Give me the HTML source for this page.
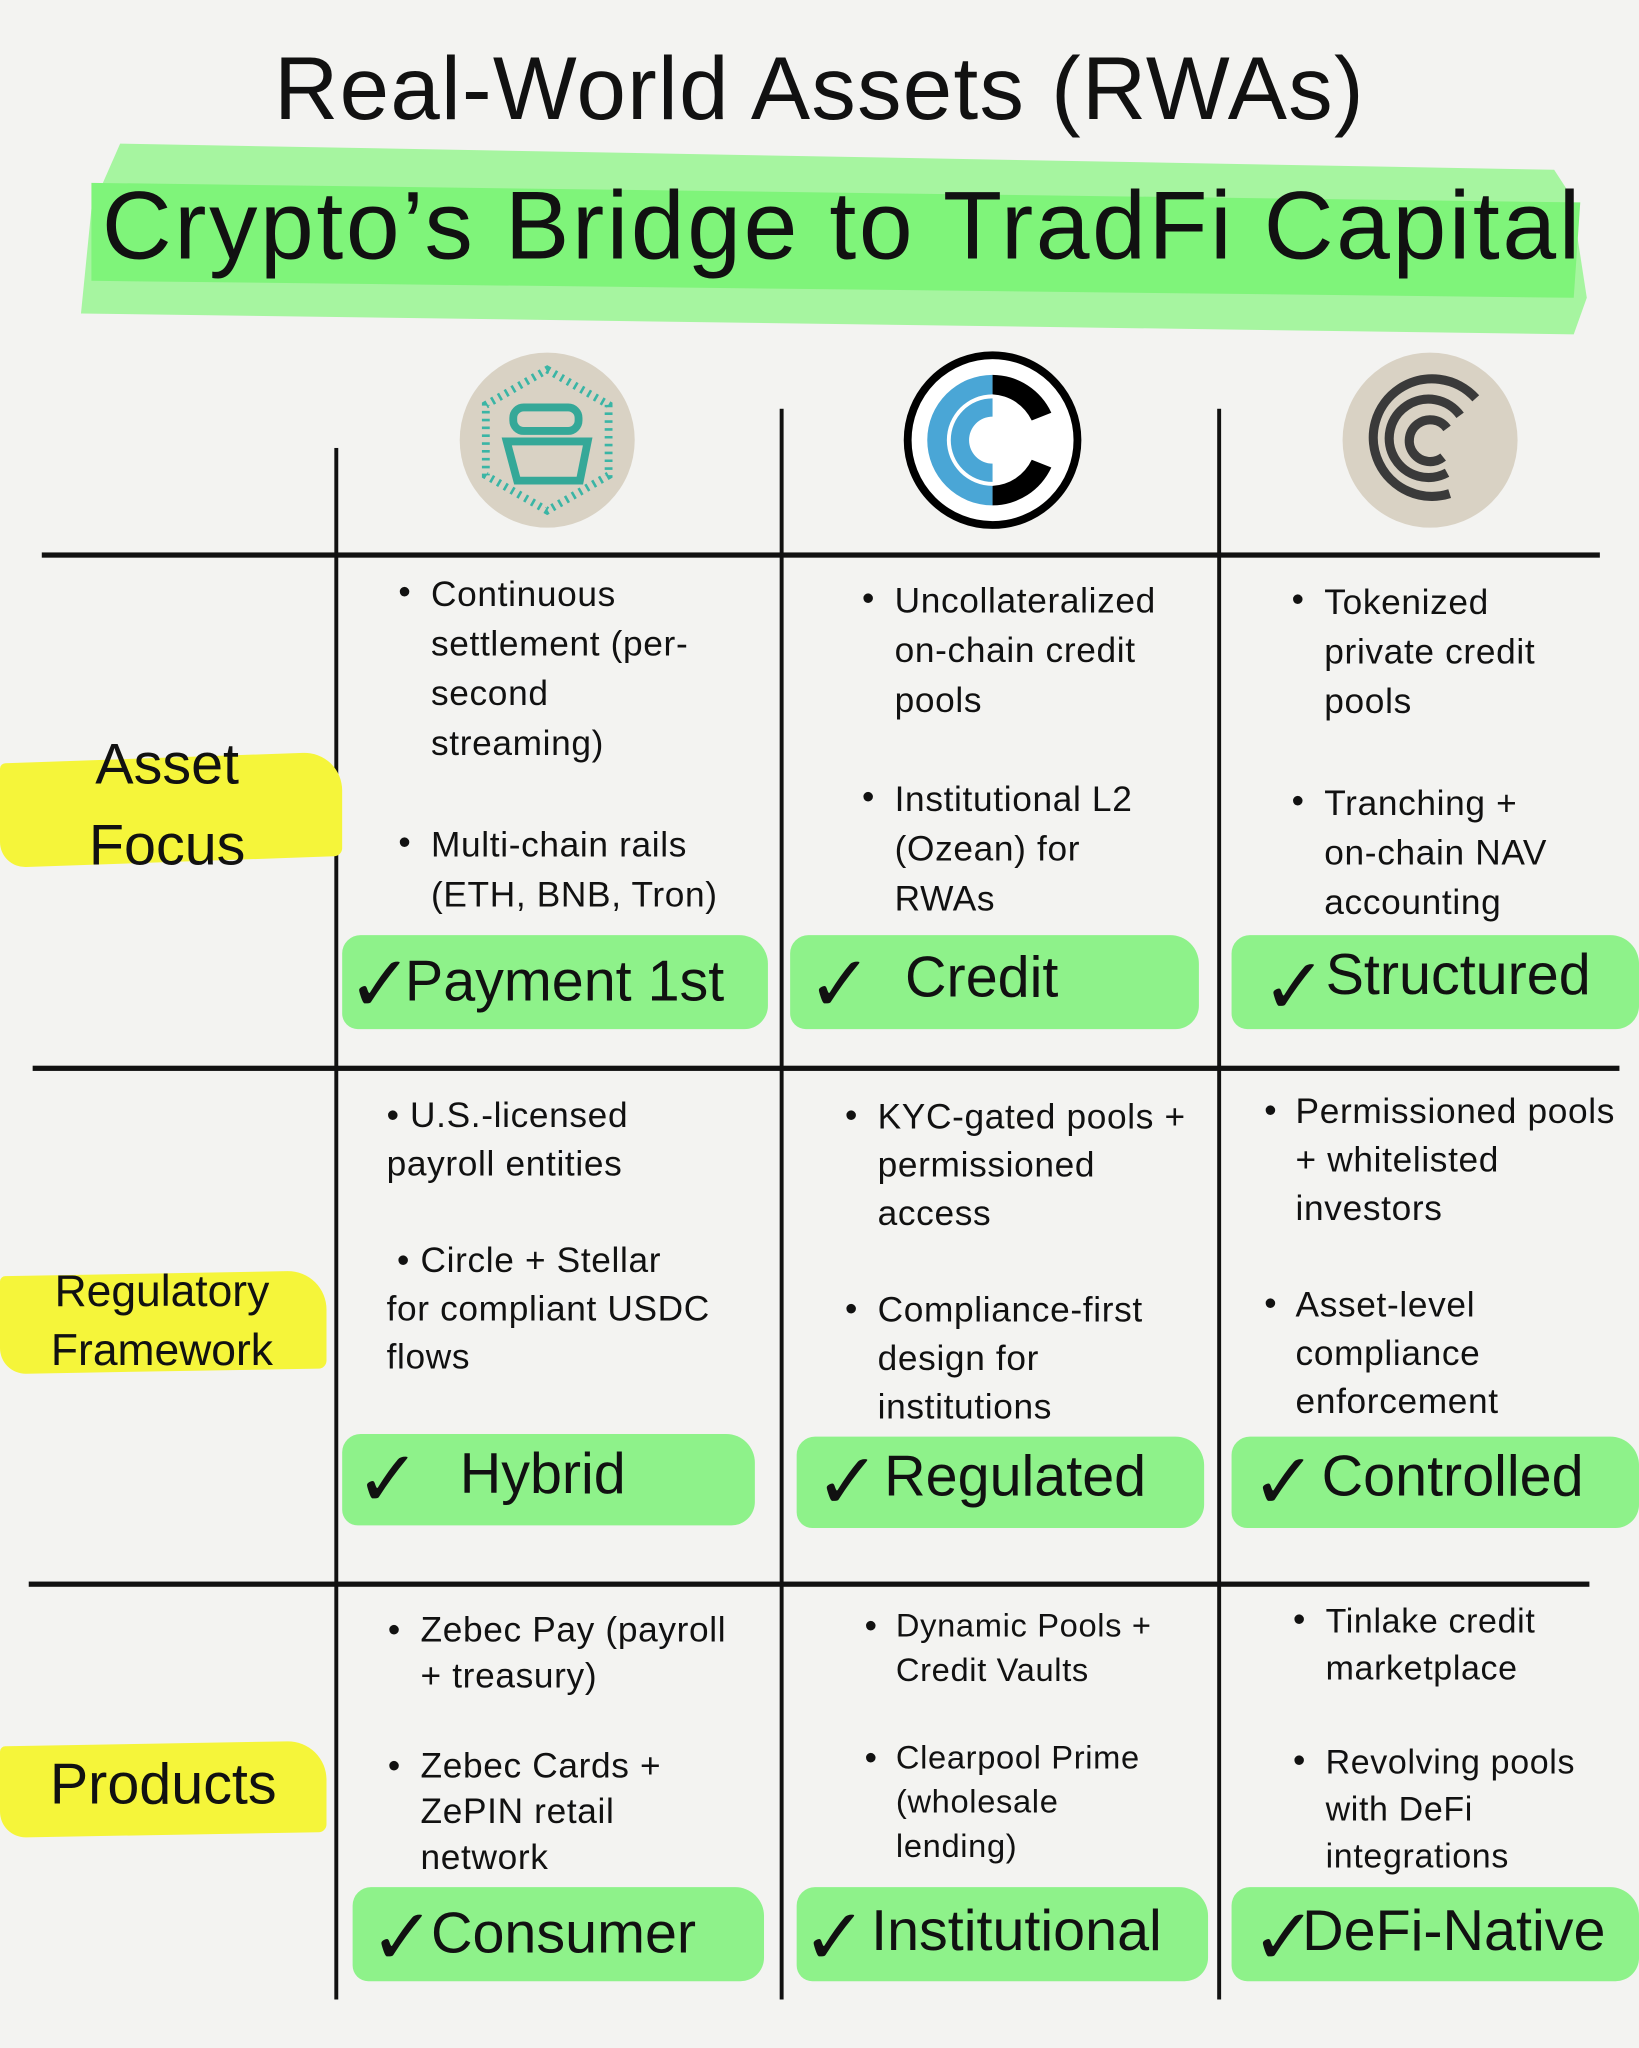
<!DOCTYPE html>
<html><head><meta charset="utf-8"><style>
html,body{margin:0;padding:0;background:#f3f3f1;}
body{width:1639px;height:2048px;overflow:hidden;position:relative;}
#w{position:absolute;left:0;top:0;width:1255px;height:1568px;transform:scale(1.306);transform-origin:0 0;font-family:"Liberation Sans Narrow","Liberation Sans",sans-serif;color:#111;}
.a{position:absolute;white-space:nowrap;}
.t{position:absolute;white-space:nowrap;font-size:27px;line-height:38px;letter-spacing:0.5px;}
.b{position:absolute;font-size:27px;}
.v{position:absolute;width:3px;background:#111;}
.h{position:absolute;height:4px;background:#111;}
.g{position:absolute;background:#8ef28a;border-radius:14px 22px 18px 12px;}
.bt{position:absolute;white-space:nowrap;font-size:44px;line-height:50px;}
.ck{position:absolute;font-size:60px;line-height:60px;font-family:"DejaVu Sans",sans-serif;}
.y{position:absolute;background:#f5f53a;}
</style></head><body><div id="w">
<div class="a" style="left:0;width:1255px;text-align:center;top:28px;font-size:68px;line-height:80px;letter-spacing:1px;">Real-World Assets (RWAs)</div>
<svg class="a" style="left:0;top:0" width="1255" height="300">
<polygon points="92,110 1190,130 1203,150 1215,228 1205,256 62,240 70,160" fill="#a6f5a0"/>
<polygon points="70,140 1210,155 1205,228 70,215" fill="#7ff47a"/>
</svg>
<div class="a" style="left:78px;top:133px;font-size:74px;line-height:80px;letter-spacing:2px;">Crypto’s Bridge to TradFi Capital</div>
<svg class="a" style="left:0;top:0" width="1255" height="420">
<circle cx="419" cy="337" r="67" fill="#d9d2c4"/>
<polygon points="419,283 466,310 466,364 419,391 372,364 372,310" fill="none" stroke="#3ab5a5" stroke-width="6" stroke-dasharray="2 4"/>
<rect x="393" y="312" width="50" height="18" rx="8" fill="none" stroke="#35a898" stroke-width="6"/>
<path d="M388 338 L450 338 L444 368 L396 368 Z" fill="none" stroke="#35a898" stroke-width="6"/>
<circle cx="760" cy="337" r="65" fill="#fff" stroke="#000" stroke-width="6"/>
<path d="M760 287 A50 50 0 0 0 760 387 L760 372 A35 35 0 0 1 760 302 Z" fill="#4aa6d6"/>
<path d="M760 305 A32 32 0 0 0 760 369 L760 355 A18 18 0 0 1 760 319 Z" fill="#4aa6d6"/>
<path d="M760 287 A50 50 0 0 1 805 316 L790 322 A35 35 0 0 0 760 302 Z" fill="#000"/>
<path d="M760 387 A50 50 0 0 0 805 358 L790 352 A35 35 0 0 1 760 372 Z" fill="#000"/>
<circle cx="1095" cy="337" r="67" fill="#d9d2c4"/>
<path d="M1130 305 A45 45 0 1 0 1110 378" fill="none" stroke="#3a3a3a" stroke-width="7"/>
<path d="M1118 318 A30 30 0 1 0 1108 362" fill="none" stroke="#3a3a3a" stroke-width="7"/>
<path d="M1108 328 A16 16 0 1 0 1105 350" fill="none" stroke="#3a3a3a" stroke-width="7"/>
</svg>
<div class="v" style="left:256px;top:343px;height:1188px"></div>
<div class="v" style="left:597px;top:313px;height:1218px"></div>
<div class="v" style="left:932px;top:313px;height:1218px"></div>
<div class="h" style="left:32px;top:423px;width:1193px"></div>
<div class="h" style="left:25px;top:816px;width:1215px"></div>
<div class="h" style="left:22px;top:1211px;width:1195px"></div>
<div class="y" style="left:0;top:580px;width:262px;height:80px;transform:skewY(-2deg);border-radius:4px 30px 6px 20px"></div>
<div class="a" style="left:0;width:256px;text-align:center;top:555px;font-size:44px;line-height:62px">Asset<br>Focus</div>
<div class="y" style="left:0;top:975px;width:250px;height:75px;transform:skewY(-1deg);border-radius:4px 30px 6px 20px"></div>
<div class="a" style="left:0;width:248px;text-align:center;top:967px;font-size:34px;line-height:45px">Regulatory<br>Framework</div>
<div class="y" style="left:0;top:1335px;width:250px;height:70px;transform:skewY(-1deg);border-radius:4px 30px 6px 20px"></div>
<div class="a" style="left:0;width:250px;text-align:center;top:1340px;font-size:44px;line-height:54px">Products</div>
<div class="b" style="left:305px;top:438px">•</div><div class="t" style="left:330px;top:436px">Continuous<br>settlement (per-<br>second<br>streaming)</div>
<div class="b" style="left:305px;top:630px">•</div><div class="t" style="left:330px;top:628px">Multi-chain rails<br>(ETH, BNB, Tron)</div>
<div class="b" style="left:660px;top:443px">•</div><div class="t" style="left:685px;top:441px">Uncollateralized<br>on-chain credit<br>pools</div>
<div class="b" style="left:660px;top:595px">•</div><div class="t" style="left:685px;top:593px">Institutional L2<br>(Ozean) for<br>RWAs</div>
<div class="b" style="left:989px;top:444px">•</div><div class="t" style="left:1014px;top:442px">Tokenized<br>private credit<br>pools</div>
<div class="b" style="left:989px;top:598px">•</div><div class="t" style="left:1014px;top:596px">Tranching +<br>on-chain NAV<br>accounting</div>
<div class="g" style="left:262px;top:716px;width:326px;height:72px"></div>
<div class="g" style="left:605px;top:716px;width:313px;height:72px"></div>
<div class="g" style="left:943px;top:716px;width:312px;height:72px"></div>
<div class="ck" style="left:266px;top:724px">✓</div><div class="bt" style="left:310px;top:727px">Payment 1st</div>
<div class="ck" style="left:618px;top:724px">✓</div><div class="bt" style="left:693px;top:724px">Credit</div>
<div class="ck" style="left:966px;top:726px">✓</div><div class="bt" style="left:1015px;top:722px">Structured</div>
<div class="t" style="left:296px;top:836px;line-height:37px">• U.S.-licensed<br>payroll entities</div>
<div class="t" style="left:296px;top:947px;line-height:37px">&nbsp;• Circle + Stellar<br>for compliant USDC<br>flows</div>
<div class="b" style="left:647px;top:839px">•</div><div class="t" style="left:672px;top:837px;line-height:37px">KYC-gated pools +<br>permissioned<br>access</div>
<div class="b" style="left:647px;top:987px">•</div><div class="t" style="left:672px;top:985px;line-height:37px">Compliance-first<br>design for<br>institutions</div>
<div class="b" style="left:968px;top:835px">•</div><div class="t" style="left:992px;top:833px;line-height:37px">Permissioned pools<br>+ whitelisted<br>investors</div>
<div class="b" style="left:968px;top:983px">•</div><div class="t" style="left:992px;top:981px;line-height:37px">Asset-level<br>compliance<br>enforcement</div>
<div class="g" style="left:262px;top:1098px;width:316px;height:70px"></div>
<div class="g" style="left:610px;top:1100px;width:312px;height:70px"></div>
<div class="g" style="left:943px;top:1100px;width:312px;height:70px"></div>
<div class="ck" style="left:272px;top:1103px">✓</div><div class="bt" style="left:352px;top:1104px">Hybrid</div>
<div class="ck" style="left:624px;top:1105px">✓</div><div class="bt" style="left:677px;top:1106px">Regulated</div>
<div class="ck" style="left:958px;top:1105px">✓</div><div class="bt" style="left:1012px;top:1106px">Controlled</div>
<div class="b" style="left:297px;top:1233px">•</div><div class="t" style="left:322px;top:1231px;line-height:35px">Zebec Pay (payroll<br>+ treasury)</div>
<div class="b" style="left:297px;top:1337px">•</div><div class="t" style="left:322px;top:1335px;line-height:35px">Zebec Cards +<br>ZePIN retail<br>network</div>
<div class="b" style="left:662px;top:1230px">•</div><div class="t" style="left:686px;top:1228px;line-height:34px;font-size:25px">Dynamic Pools +<br>Credit Vaults</div>
<div class="b" style="left:662px;top:1331px">•</div><div class="t" style="left:686px;top:1329px;line-height:34px;font-size:25px">Clearpool Prime<br>(wholesale<br>lending)</div>
<div class="b" style="left:990px;top:1225px">•</div><div class="t" style="left:1015px;top:1223px;line-height:36px;font-size:26px">Tinlake credit<br>marketplace</div>
<div class="b" style="left:990px;top:1333px">•</div><div class="t" style="left:1015px;top:1331px;line-height:36px;font-size:26px">Revolving pools<br>with DeFi<br>integrations</div>
<div class="g" style="left:270px;top:1445px;width:315px;height:72px"></div>
<div class="g" style="left:610px;top:1445px;width:315px;height:72px"></div>
<div class="g" style="left:943px;top:1445px;width:312px;height:72px"></div>
<div class="ck" style="left:283px;top:1454px">✓</div><div class="bt" style="left:330px;top:1456px">Consumer</div>
<div class="ck" style="left:614px;top:1454px">✓</div><div class="bt" style="left:667px;top:1454px">Institutional</div>
<div class="ck" style="left:958px;top:1454px">✓</div><div class="bt" style="left:997px;top:1454px">DeFi-Native</div>
</div></body></html>
